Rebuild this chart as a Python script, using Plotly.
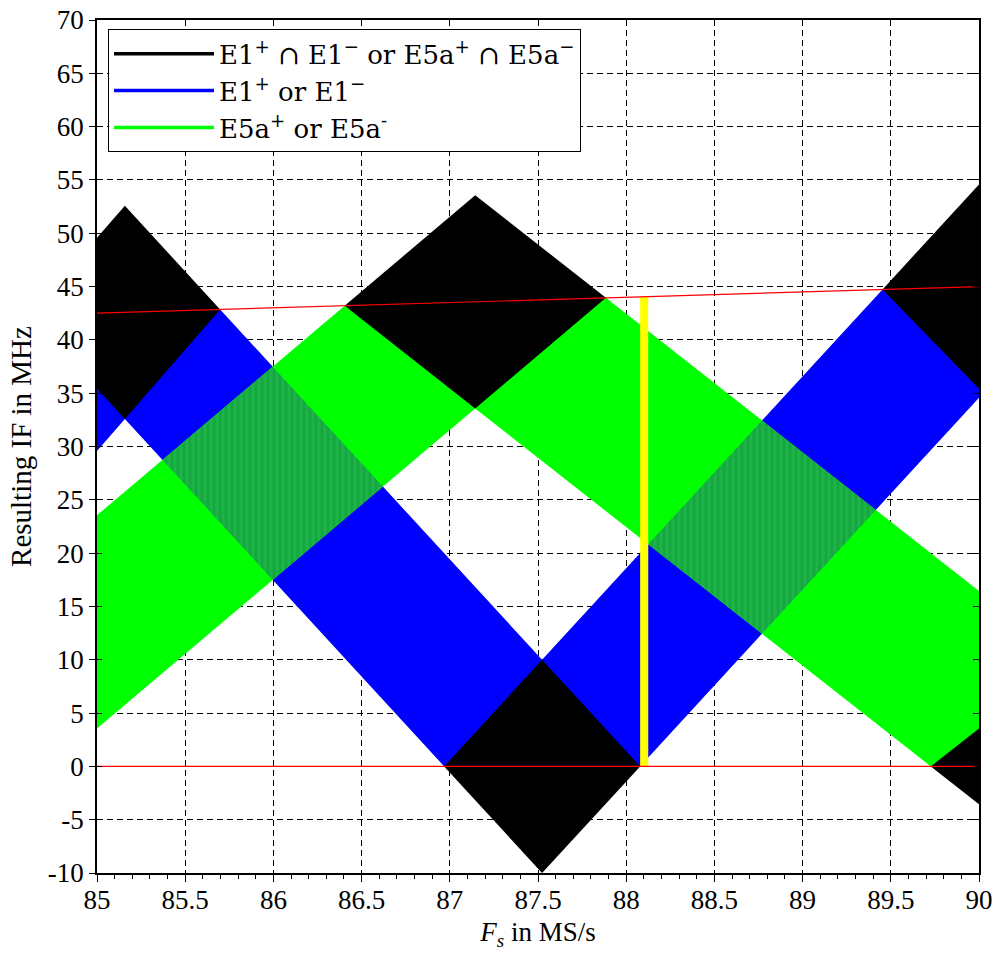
import plotly.graph_objects as go

# ---- data (vertices, Fs in MS/s, IF in MHz) ----
# E1 band (folded into 0..Fs/2) -> blue
e1_fs = [85.0, 85.698, 87.523, 89.453, 90.0, 90.0, 88.079, 86.968, 85.158, 85.0]
e1_if = [42.5, 42.85, 10.0, 44.73, 45.0, 34.58, 0.0, 0.0, 32.58, 29.58]
# E5a band (folded) -> green
e5_fs = [85.0, 86.404, 87.885, 90.0, 90.0, 89.727, 87.144, 85.0]
e5_if = [23.55, 43.20, 43.94, 16.45, 0.0, 0.0, 33.57, 3.55]
# overlap of E1 and E5a bands -> striped dark green
ov1_fs = [85.371, 85.996, 86.621, 85.996]
ov1_if = [28.74, 37.49, 26.24, 17.49]
ov2_fs = [88.125, 88.770, 89.415, 88.770]
ov2_if = [20.83, 32.44, 24.05, 12.44]
# self-intersection diamonds (E1+ ∩ E1- or E5a+ ∩ E5a-) -> black
d1_fs = [85.0, 85.158, 85.698, 85.158, 85.0]
d1_if = [49.58, 52.58, 42.85, 32.58, 35.42]
d2_fs = [86.968, 87.523, 88.079, 87.523]
d2_if = [0.0, 10.0, 0.0, -10.0]
d3_fs = [86.404, 87.144, 87.885, 87.144]
d3_if = [43.20, 53.57, 43.94, 33.57]
d4_fs = [89.453, 90.0, 90.0]
d4_if = [44.73, 54.58, 35.42]
d5_fs = [89.727, 90.0, 90.0]
d5_if = [0.0, 3.55, -3.55]
# selected sampling-rate window (yellow)
sel_fs = [88.079, 88.125, 88.125, 88.079]
sel_if = [0.0, 0.0, 44.06, 44.04]
# reference lines: Fs/2 and 0
half_fs = [85.0, 90.0]
half_if = [42.5, 45.0]
zero_fs = [85.0, 90.0]
zero_if = [0.0, 0.0]

x_ticks = [85, 85.5, 86, 86.5, 87, 87.5, 88, 88.5, 89, 89.5, 90]
x_labels = ["85", "85.5", "86", "86.5", "87", "87.5", "88", "88.5", "89", "89.5", "90"]
y_ticks = list(range(-10, 75, 5))
y_labels = [str(v) for v in y_ticks]

legend_names = [
    "E1<sup>+</sup> \u2229 E1<sup>\u2212</sup> or E5a<sup>+</sup> \u2229 E5a<sup>\u2212</sup>",
    "E1<sup>+</sup> or E1<sup>\u2212</sup>",
    "E5a<sup>+</sup> or E5a<sup>-</sup>",
]
legend_colors = ["#000000", "#0000FF", "#00FF00"]

FONT = "Liberation Serif"

fig = go.Figure()


def poly(xs, ys, color, **kw):
    fig.add_trace(go.Scatter(
        x=xs + xs[:1], y=ys + ys[:1], mode="lines", fill="toself",
        fillcolor=color, line=dict(width=0, color=color),
        showlegend=False, hoverinfo="skip", **kw))


poly(e1_fs, e1_if, "#0000FF")
poly(e5_fs, e5_if, "#00FF00")
for xs, ys in [(ov1_fs, ov1_if), (ov2_fs, ov2_if)]:
    poly(xs, ys, "#16B043",
         fillpattern=dict(shape="|", bgcolor="#19B545", fgcolor="#1A9444",
                          size=6, solidity=0.45))
for xs, ys in [(d1_fs, d1_if), (d2_fs, d2_if), (d3_fs, d3_if),
               (d4_fs, d4_if), (d5_fs, d5_if)]:
    poly(xs, ys, "#000000")
poly(sel_fs, sel_if, "#FFFF00")

for xs, ys in [(half_fs, half_if), (zero_fs, zero_if)]:
    fig.add_trace(go.Scatter(x=xs, y=ys, mode="lines",
                             line=dict(color="#FF0000", width=1.2),
                             showlegend=False, hoverinfo="skip"))

for name, col in zip(legend_names, legend_colors):
    fig.add_trace(go.Scatter(x=[None], y=[None], mode="lines", name=name,
                             line=dict(color=col, width=3.5)))

axis_common = dict(showline=True, linecolor="black", linewidth=1.5,
                   zeroline=False, automargin=False,
                   ticklabeloverflow="allow")
hidden_common = dict(showticklabels=False, showgrid=False, zeroline=False,
                     showline=False, automargin=False, tickcolor="black")

fig.update_layout(
    width=994, height=962,
    margin=dict(l=97, r=15, t=20, b=89, autoexpand=False),
    paper_bgcolor="white", plot_bgcolor="white",
    font=dict(family=FONT, size=27, color="black"),
    showlegend=True,
    legend=dict(x=0.0125, y=0.989, xanchor="left", yanchor="top",
                bgcolor="white", bordercolor="black", borderwidth=1,
                font=dict(family="DejaVu Serif", size=26), itemwidth=100,
                tracegroupgap=0),
    xaxis=dict(range=[85, 90], tickvals=x_ticks, ticktext=x_labels,
               ticks="outside", ticklen=7, tickwidth=1.2, tickcolor="black",
               ticklabelstandoff=-5,
               minor=dict(dtick=0.1, ticks="outside", ticklen=4,
                          tickcolor="black", showgrid=False),
               showgrid=True, gridcolor="black", gridwidth=1,
               griddash="6px,4px", mirror=True,
               title=dict(text="<i>F</i><sub><i>s</i></sub> in MS/s",
                          font=dict(family=FONT, size=27), standoff=8),
               **axis_common),
    yaxis=dict(range=[-10, 70], tickvals=y_ticks, ticktext=y_labels,
               ticks="outside", ticklen=6, tickwidth=1.2, tickcolor="black",
               showgrid=True, gridcolor="black", gridwidth=1,
               griddash="6px,4px", mirror=True,
               title=dict(text="Resulting IF in MHz",
                          font=dict(family=FONT, size=29), standoff=8),
               **axis_common),
    xaxis2=dict(range=[85, 90], overlaying="x", side="top", anchor="y",
                tickvals=x_ticks, ticks="inside", ticklen=6, **hidden_common),
    yaxis2=dict(range=[-10, 70], overlaying="y", side="right", anchor="x",
                tickvals=y_ticks, ticks="inside", ticklen=6, **hidden_common),
    yaxis3=dict(range=[-10, 70], overlaying="y", side="left", anchor="x",
                tickvals=y_ticks, ticks="inside", ticklen=5, **hidden_common),
)

# dummy traces to activate the mirrored tick axes
fig.add_trace(go.Scatter(x=[None], y=[None], xaxis="x2", yaxis="y2",
                         showlegend=False, hoverinfo="skip"))
fig.add_trace(go.Scatter(x=[None], y=[None], xaxis="x", yaxis="y3",
                         showlegend=False, hoverinfo="skip"))

# remove the default page margin so the figure fills the window exactly
fig.write_html("out.html",
               config={"displayModeBar": False},
               post_script="document.body.style.margin='0px';"
                           "document.body.style.overflow='hidden';")
